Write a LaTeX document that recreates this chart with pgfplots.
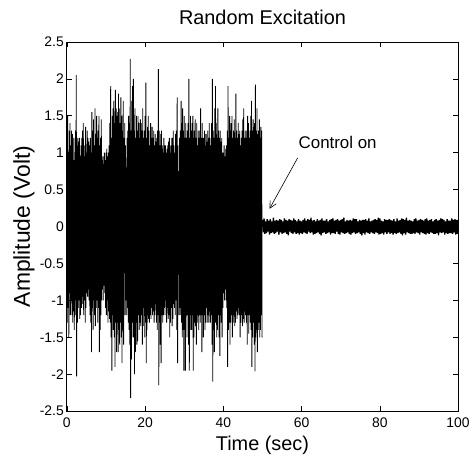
\documentclass[border=0pt]{standalone}
\usepackage{fontspec}
\setmainfont{Liberation Sans}
\usepackage{pgfplots}
\usepackage{pgfplotstable}
\pgfplotsset{compat=1.18}
\usetikzlibrary{arrows.meta}

% excitation phase, one sample every 0.1 s from 0 to 49.9 s
\pgfplotstableread[row sep=\\,header=false]{
1.2\\ -1.3\\ 1.5\\ -1.1\\ 1.0\\ -1.5\\ 1.3\\ -0.9\\ 1.4\\ -1.2\\
1.1\\ -1.0\\ 1.3\\ -1.2\\ 1.25\\ -1.3\\ 0.9\\ -1.15\\ 1.2\\ -1.4\\
0.9\\ -1.2\\ 1.3\\ -1.0\\ 2.05\\ -2.03\\ 1.1\\ -1.3\\ 1.2\\ -1.1\\
1.15\\ -1.0\\ 1.2\\ -1.25\\ 0.95\\ -1.2\\ 1.1\\ -1.1\\ 1.2\\ -0.95\\
1.3\\ -1.05\\ 1.4\\ -1.2\\ 1.1\\ -1.0\\ 0.95\\ -1.3\\ 1.35\\ -1.1\\
1.0\\ -0.9\\ 1.3\\ -0.95\\ 1.2\\ -0.85\\ 1.15\\ -1.0\\ 1.1\\ -1.2\\
1.2\\ -1.3\\ 1.0\\ -1.7\\ 1.55\\ -1.1\\ 1.3\\ -1.4\\ 1.45\\ -1.0\\
1.1\\ -1.2\\ 1.6\\ -1.35\\ 1.25\\ -1.1\\ 1.5\\ -1.0\\ 1.2\\ -1.3\\
1.3\\ -1.1\\ 1.5\\ -1.7\\ 1.1\\ -1.4\\ 1.2\\ -1.2\\ 1.45\\ -1.0\\
0.9\\ -0.85\\ 0.95\\ -1.0\\ 0.85\\ -0.8\\ 1.0\\ -0.9\\ 0.9\\ -1.1\\
1.0\\ -1.2\\ 1.05\\ -1.0\\ 0.95\\ -1.3\\ 1.0\\ -1.15\\ 1.1\\ -1.25\\
1.4\\ -1.3\\ 1.9\\ -1.5\\ 1.2\\ -1.95\\ 1.5\\ -1.2\\ 1.6\\ -1.4\\
1.7\\ -1.5\\ 1.4\\ -1.9\\ 1.85\\ -1.3\\ 1.6\\ -1.7\\ 1.5\\ -1.3\\
1.55\\ -1.7\\ 1.8\\ -1.4\\ 1.6\\ -1.6\\ 1.4\\ -1.3\\ 1.75\\ -1.5\\
1.5\\ -1.85\\ 1.3\\ -1.4\\ 1.7\\ -1.6\\ 1.2\\ -0.63\\ 1.4\\ -1.2\\
1.1\\ -1.0\\ 0.8\\ -1.2\\ 1.2\\ -1.1\\ 1.3\\ -1.3\\ 1.5\\ -1.4\\
1.4\\ -1.6\\ 2.27\\ -2.32\\ 1.3\\ -1.8\\ 1.7\\ -1.3\\ 1.9\\ -1.5\\
2.0\\ -1.5\\ 1.3\\ -2.0\\ 1.6\\ -1.7\\ 1.2\\ -1.3\\ 1.5\\ -1.6\\
1.3\\ -1.55\\ 1.5\\ -1.2\\ 1.4\\ -1.4\\ 1.2\\ -1.3\\ 1.45\\ -1.35\\
1.4\\ -1.2\\ 1.3\\ -1.6\\ 1.6\\ -1.35\\ 1.2\\ -1.1\\ 1.3\\ -1.5\\
1.5\\ -1.3\\ 1.95\\ -1.85\\ 1.2\\ -1.4\\ 1.35\\ -1.2\\ 1.5\\ -1.25\\
1.3\\ -1.3\\ 1.1\\ -1.2\\ 1.4\\ -1.25\\ 1.2\\ -1.1\\ 1.35\\ -1.2\\
1.2\\ -1.15\\ 1.3\\ -1.3\\ 1.1\\ -1.2\\ 1.25\\ -1.05\\ 1.15\\ -1.3\\
1.2\\ -1.4\\ 1.3\\ -1.2\\ 2.13\\ -2.15\\ 1.3\\ -1.3\\ 1.1\\ -1.6\\
1.25\\ -1.85\\ 1.3\\ -1.2\\ 1.1\\ -1.3\\ 1.0\\ -1.2\\ 1.2\\ -1.1\\
1.1\\ -1.2\\ 1.1\\ -1.0\\ 1.0\\ -1.3\\ 1.05\\ -1.1\\ 1.1\\ -1.25\\
1.15\\ -1.2\\ 1.2\\ -1.5\\ 1.0\\ -1.3\\ 1.1\\ -1.1\\ 1.2\\ -1.35\\
1.2\\ -1.25\\ 1.3\\ -1.05\\ 1.1\\ -1.1\\ 1.0\\ -1.2\\ 1.25\\ -1.0\\
1.3\\ -1.4\\ 1.75\\ -1.85\\ 1.1\\ -0.65\\ 0.75\\ -1.2\\ 1.2\\ -1.1\\
1.3\\ -1.2\\ 1.7\\ -1.3\\ 1.4\\ -1.5\\ 1.6\\ -1.4\\ 1.3\\ -1.95\\
1.5\\ -1.4\\ 1.2\\ -1.95\\ 1.4\\ -1.2\\ 1.2\\ -1.5\\ 1.3\\ -1.2\\
1.4\\ -1.6\\ 2.0\\ -1.95\\ 1.2\\ -1.4\\ 1.5\\ -1.2\\ 1.3\\ -1.4\\
1.4\\ -1.2\\ 1.5\\ -1.95\\ 1.2\\ -1.5\\ 1.3\\ -1.3\\ 1.45\\ -1.35\\
1.2\\ -1.6\\ 1.4\\ -1.3\\ 1.1\\ -1.2\\ 1.3\\ -1.4\\ 1.2\\ -1.2\\
1.3\\ -1.3\\ 1.6\\ -1.2\\ 1.2\\ -1.7\\ 1.4\\ -1.2\\ 1.2\\ -1.5\\
1.2\\ -1.2\\ 1.3\\ -1.4\\ 1.1\\ -1.3\\ 1.25\\ -1.1\\ 1.15\\ -1.3\\
1.3\\ -1.2\\ 1.2\\ -1.3\\ 1.4\\ -1.15\\ 1.2\\ -1.3\\ 1.1\\ -1.2\\
1.4\\ -1.6\\ 2.0\\ -2.1\\ 1.3\\ -1.4\\ 1.2\\ -1.7\\ 1.6\\ -1.3\\
1.9\\ -1.3\\ 1.4\\ -1.5\\ 1.2\\ -1.4\\ 1.6\\ -1.2\\ 1.3\\ -1.5\\
1.2\\ -1.75\\ 1.3\\ -1.2\\ 1.15\\ -1.3\\ 1.2\\ -1.5\\ 1.0\\ -1.1\\
1.0\\ -0.9\\ 1.1\\ -1.0\\ 0.95\\ -0.85\\ 1.05\\ -1.0\\ 1.1\\ -1.1\\
1.3\\ -1.9\\ 1.9\\ -1.4\\ 1.2\\ -1.3\\ 1.5\\ -1.6\\ 1.3\\ -1.3\\
1.4\\ -1.2\\ 1.5\\ -1.5\\ 1.2\\ -1.3\\ 1.3\\ -1.2\\ 1.45\\ -1.35\\
1.2\\ -1.3\\ 1.8\\ -1.15\\ 1.3\\ -1.25\\ 1.2\\ -1.2\\ 1.4\\ -1.1\\
1.25\\ -1.2\\ 1.3\\ -1.5\\ 1.1\\ -1.3\\ 1.2\\ -1.2\\ 1.3\\ -1.35\\
1.45\\ -1.25\\ 1.6\\ -1.3\\ 1.2\\ -1.15\\ 1.3\\ -1.2\\ 1.2\\ -1.3\\
1.3\\ -1.6\\ 1.5\\ -1.2\\ 1.4\\ -1.45\\ 1.2\\ -1.2\\ 1.3\\ -1.3\\
1.5\\ -1.4\\ 1.7\\ -1.9\\ 1.3\\ -1.5\\ 1.45\\ -1.3\\ 1.35\\ -1.6\\
1.4\\ -1.96\\ 1.92\\ -1.5\\ 1.3\\ -1.4\\ 1.6\\ -1.7\\ 1.25\\ -1.4\\
1.3\\ -1.3\\ 1.45\\ -1.5\\ 1.2\\ -1.4\\ 1.35\\ -1.2\\ 1.3\\ -1.5\\
}\excitation

% control phase, one sample every 0.2 s from 50 to 100 s
\pgfplotstableread[row sep=\\,header=false]{
0.09\\ -0.08\\ 0.11\\ -0.10\\ 0.07\\ -0.09\\ 0.10\\ -0.07\\ 0.08\\ -0.11\\
0.10\\ -0.09\\ 0.07\\ -0.08\\ 0.12\\ -0.10\\ 0.08\\ -0.09\\ 0.09\\ -0.07\\
0.08\\ -0.11\\ 0.10\\ -0.08\\ 0.09\\ -0.10\\ 0.07\\ -0.09\\ 0.11\\ -0.08\\
0.09\\ -0.10\\ 0.08\\ -0.12\\ 0.10\\ -0.07\\ 0.09\\ -0.09\\ 0.08\\ -0.10\\
0.11\\ -0.08\\ 0.09\\ -0.10\\ 0.07\\ -0.09\\ 0.10\\ -0.11\\ 0.08\\ -0.09\\
0.07\\ -0.10\\ 0.09\\ -0.08\\ 0.11\\ -0.09\\ 0.08\\ -0.10\\ 0.10\\ -0.07\\
0.09\\ -0.09\\ 0.12\\ -0.08\\ 0.08\\ -0.11\\ 0.09\\ -0.10\\ 0.07\\ -0.09\\
0.10\\ -0.08\\ 0.08\\ -0.10\\ 0.09\\ -0.12\\ 0.11\\ -0.09\\ 0.08\\ -0.08\\
0.08\\ -0.10\\ 0.10\\ -0.09\\ 0.07\\ -0.08\\ 0.09\\ -0.11\\ 0.10\\ -0.09\\
0.11\\ -0.09\\ 0.08\\ -0.10\\ 0.09\\ -0.07\\ 0.10\\ -0.10\\ 0.08\\ -0.11\\
0.09\\ -0.08\\ 0.10\\ -0.09\\ 0.12\\ -0.10\\ 0.07\\ -0.09\\ 0.09\\ -0.08\\
0.08\\ -0.10\\ 0.09\\ -0.11\\ 0.08\\ -0.09\\ 0.11\\ -0.08\\ 0.10\\ -0.10\\
0.10\\ -0.09\\ 0.07\\ -0.08\\ 0.09\\ -0.10\\ 0.08\\ -0.12\\ 0.09\\ -0.09\\
0.09\\ -0.11\\ 0.10\\ -0.08\\ 0.08\\ -0.09\\ 0.11\\ -0.10\\ 0.07\\ -0.08\\
0.08\\ -0.09\\ 0.09\\ -0.10\\ 0.10\\ -0.08\\ 0.09\\ -0.09\\ 0.12\\ -0.11\\
0.11\\ -0.10\\ 0.08\\ -0.09\\ 0.07\\ -0.11\\ 0.10\\ -0.08\\ 0.09\\ -0.10\\
0.09\\ -0.08\\ 0.10\\ -0.10\\ 0.09\\ -0.09\\ 0.08\\ -0.11\\ 0.10\\ -0.09\\
0.07\\ -0.10\\ 0.11\\ -0.09\\ 0.08\\ -0.08\\ 0.09\\ -0.10\\ 0.11\\ -0.12\\
0.10\\ -0.09\\ 0.09\\ -0.11\\ 0.12\\ -0.08\\ 0.08\\ -0.09\\ 0.09\\ -0.10\\
0.08\\ -0.10\\ 0.07\\ -0.09\\ 0.10\\ -0.10\\ 0.11\\ -0.08\\ 0.08\\ -0.09\\
0.09\\ -0.11\\ 0.10\\ -0.08\\ 0.09\\ -0.09\\ 0.08\\ -0.10\\ 0.10\\ -0.11\\
0.11\\ -0.09\\ 0.08\\ -0.10\\ 0.09\\ -0.08\\ 0.10\\ -0.09\\ 0.07\\ -0.10\\
0.09\\ -0.10\\ 0.10\\ -0.09\\ 0.08\\ -0.12\\ 0.09\\ -0.08\\ 0.11\\ -0.09\\
0.10\\ -0.08\\ 0.09\\ -0.11\\ 0.07\\ -0.09\\ 0.10\\ -0.10\\ 0.08\\ -0.09\\
0.08\\ -0.09\\ 0.11\\ -0.10\\ 0.09\\ -0.08\\ 0.10\\ -0.11\\ 0.09\\ -0.10\\
0.09\\
}\control

\begin{document}
\begin{tikzpicture}
\begin{axis}[
  scale only axis,
  width=392bp, height=370bp,
  xmin=0, xmax=100, ymin=-2.5, ymax=2.5,
  xtick={0,20,40,60,80,100},
  ytick={-2.5,-2,-1.5,-1,-0.5,0,0.5,1,1.5,2,2.5},
  yticklabels={-2.5,-2,-1.5,-1,-0.5,0,0.5,1,1.5,2,2.5},
  xticklabels={0,20,40,60,80,100},
  tick align=inside,
  major tick length=5bp,
  axis line style={line width=0.8bp},
  tick style={line width=0.6bp, black},
  ticklabel style={font=\fontsize{14}{14}\selectfont},
  yticklabel style={xshift=0.5bp},
  xticklabel style={yshift=-3.5bp},
  title={Random Excitation},
  title style={font=\fontsize{20}{20}\selectfont, at={(axis description cs:0.5,1.0305)}, anchor=base},
  xlabel={Time (sec)},
  xlabel style={font=\fontsize{20}{20}\selectfont, at={(axis description cs:0.5,-0.1073)}, anchor=base},
  ylabel={Amplitude (Volt)},
  ylabel style={font=\fontsize{23}{23}\selectfont, at={(axis description cs:-0.0944,0.5)}, anchor=base, rotate=0},
]
\addplot[black, line width=0.85bp, mark=none] table[x expr=\coordindex*0.1, y index=0] {\excitation};
\addplot[black, line width=1.3bp, mark=none] table[x expr=50+\coordindex*0.2, y index=0] {\control};
\node[font=\fontsize{17}{17}\selectfont, anchor=base west, inner sep=0pt] at (axis cs:59.2,1.05) {Control on};
\draw[line width=0.6bp, -{Straight Barb[length=7bp, width=7bp]}] (axis cs:59.0,0.93) -- (axis cs:51.8,0.24);
\end{axis}
\path ([shift={(-67bp,-47bp)}]current axis.south west) rectangle ([shift={(14bp,42bp)}]current axis.north east);
\end{tikzpicture}
\end{document}
